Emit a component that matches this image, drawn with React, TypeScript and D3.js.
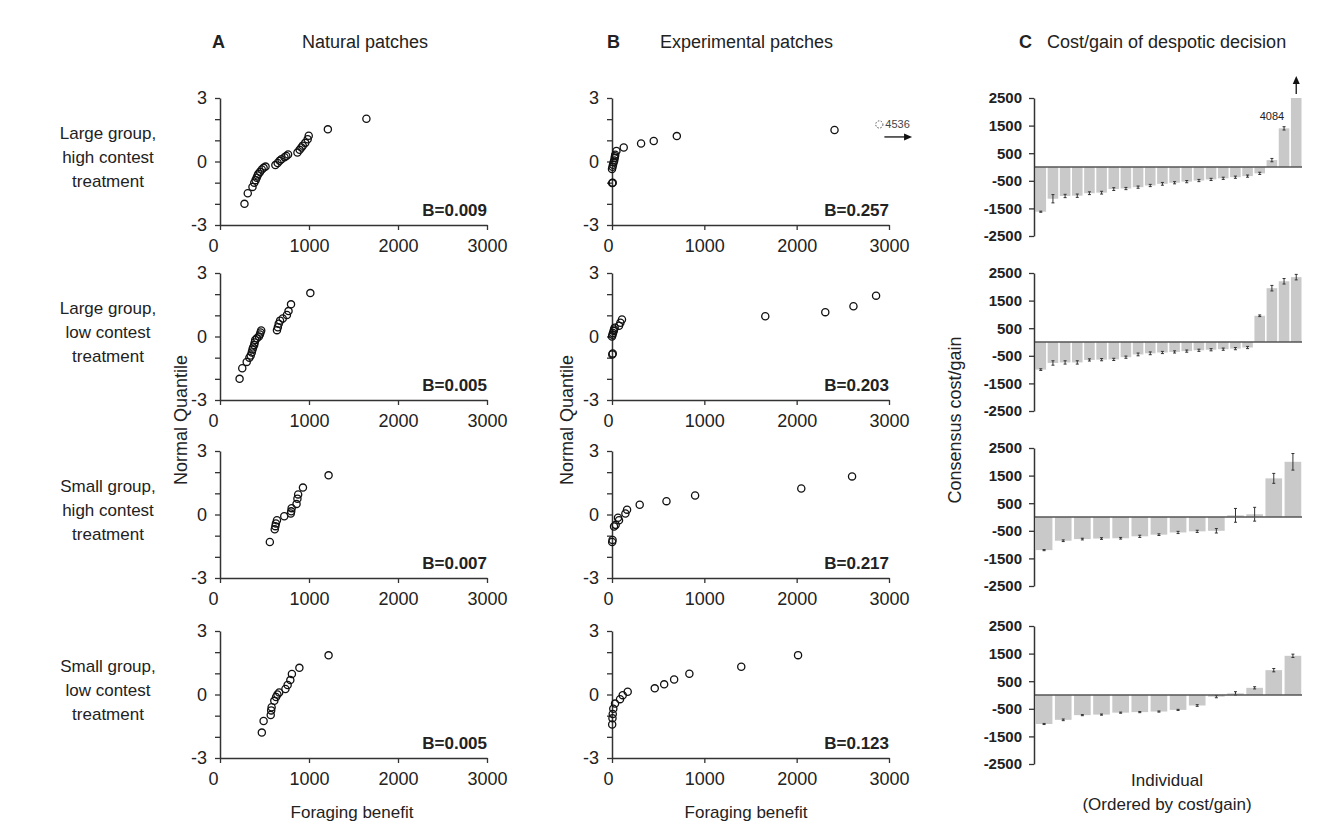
import React, { useRef, useEffect } from "react"
import * as d3 from "d3"

// row labels (left side)
const rowLabels = [
  ["Large group,", "high contest", "treatment"],
  ["Large group,", "low contest", "treatment"],
  ["Small group,", "high contest", "treatment"],
  ["Small group,", "low contest", "treatment"],
]

// A: natural patches  [foraging benefit, normal quantile]
const naturalLargeHigh = [
  [275, -2.0], [312, -1.5], [365, -1.2], [385, -1.0], [400, -0.88], [412, -0.77], [422, -0.66],
  [432, -0.58], [450, -0.49], [470, -0.38], [490, -0.3], [512, -0.24], [622, -0.17], [648, -0.07],
  [670, 0.03], [690, 0.11], [725, 0.2], [745, 0.26], [765, 0.33], [870, 0.42], [895, 0.55],
  [915, 0.66], [930, 0.75], [958, 0.88], [985, 1.05], [997, 1.22], [1212, 1.52], [1645, 2.02],
]
const naturalLargeLow = [
  [220, -2.0], [250, -1.5], [300, -1.2], [330, -1.0], [345, -0.9], [357, -0.75], [365, -0.62],
  [372, -0.52], [384, -0.4], [390, -0.28], [396, -0.16], [414, -0.08], [437, 0.0], [448, 0.1],
  [455, 0.19], [463, 0.28], [640, 0.3], [650, 0.44], [660, 0.6], [675, 0.75], [705, 0.85],
  [752, 1.02], [770, 1.2], [798, 1.52], [1015, 2.05],
]
const naturalSmallHigh = [
  [560, -1.3], [615, -0.7], [622, -0.55], [628, -0.42], [640, -0.27], [722, -0.08], [795, 0.05],
  [800, 0.15], [805, 0.3], [860, 0.5], [870, 0.75], [878, 0.95], [932, 1.27], [1220, 1.85],
]
const naturalSmallLow = [
  [470, -1.8], [490, -1.25], [570, -0.97], [575, -0.75], [580, -0.6], [610, -0.3], [630, -0.12],
  [645, 0.0], [665, 0.1], [735, 0.26], [760, 0.45], [790, 0.68], [808, 0.97], [892, 1.26], [1220, 1.85],
]

// B: experimental patches
const expLargeHigh = [
  [2, -1.02], [8, -1.0], [0, -0.35], [6, -0.25], [11, -0.15], [18, -0.04], [24, 0.05], [29, 0.16],
  [32, 0.25], [35, 0.32], [48, 0.5], [127, 0.66], [315, 0.85], [452, 0.97], [702, 1.2], [2410, 1.49],
]
const expLargeLow = [
  [3, -0.85], [8, -0.8], [0, 0.0], [5, 0.08], [11, 0.17], [18, 0.26], [22, 0.33], [29, 0.41],
  [76, 0.51], [91, 0.65], [108, 0.8], [1660, 0.96], [2310, 1.15], [2615, 1.43], [2860, 1.93],
]
const expSmallHigh = [
  [2, -1.3], [6, -1.2], [22, -0.57], [40, -0.49], [76, -0.27], [65, -0.15], [145, 0.05],
  [163, 0.23], [300, 0.46], [590, 0.63], [900, 0.9], [2050, 1.23], [2600, 1.8],
]
const expSmallLow = [
  [2, -1.42], [5, -1.12], [8, -0.92], [14, -0.67], [33, -0.43], [87, -0.22], [116, -0.03],
  [170, 0.13], [463, 0.29], [565, 0.48], [673, 0.71], [838, 0.98], [1400, 1.31], [2015, 1.86],
]

const naturalB = ["B=0.009", "B=0.005", "B=0.007", "B=0.005"]
const experimentalB = ["B=0.257", "B=0.203", "B=0.217", "B=0.123"]

// C: consensus cost/gain per individual (ordered), with error
const costLargeHigh = [-1620, -1150, -1050, -1040, -950, -930, -800, -780, -730, -670, -610, -570, -530, -490, -450, -410, -370, -330, -230, 250, 1400, 4084]
const errLargeHigh = [20, 150, 60, 60, 50, 50, 50, 40, 40, 40, 50, 40, 40, 40, 40, 40, 40, 40, 40, 60, 60, 0]
const costLargeLow = [-1000, -760, -740, -740, -650, -640, -630, -550, -450, -410, -380, -360, -330, -300, -280, -260, -240, -200, 950, 1950, 2200, 2350]
const errLargeLow = [30, 80, 60, 60, 40, 40, 40, 40, 50, 50, 40, 40, 40, 40, 40, 40, 40, 40, 30, 100, 100, 100]
const costSmallHigh = [-1200, -860, -800, -780, -770, -700, -640, -560, -520, -500, 60, 100, 1400, 2000]
const errSmallHigh = [20, 30, 30, 30, 30, 40, 30, 40, 40, 80, 250, 250, 180, 300]
const costSmallLow = [-1050, -900, -730, -710, -640, -620, -600, -540, -380, -60, 60, 260, 900, 1420]
const errSmallLow = [20, 30, 20, 20, 20, 20, 20, 20, 30, 40, 60, 40, 60, 60]

const naturalRows = [naturalLargeHigh, naturalLargeLow, naturalSmallHigh, naturalSmallLow]
const experimentalRows = [expLargeHigh, expLargeLow, expSmallHigh, expSmallLow]
const costRows = [costLargeHigh, costLargeLow, costSmallHigh, costSmallLow]
const errRows = [errLargeHigh, errLargeLow, errSmallHigh, errSmallLow]

const xTicks = [0, 1000, 2000, 3000]
const qTicks = [-3, -2, -1, 0, 1, 2, 3]
const qLabels = [-3, 0, 3]
const cTicks = [2500, 1500, 500, -500, -1500, -2500]

const FONT = "'Liberation Sans', Arial, Helvetica, sans-serif"
const INK = "#222"
const AXIS = "#333"

const App = () => {
  const svgRef = useRef(null)

  useEffect(() => {
    const svg = d3.select(svgRef.current)
    svg.selectAll("*").remove()
    svg.attr("font-family", FONT)

    const rowTops = [98, 273, 451, 631]
    const rowH = 127
    const cTops = [98, 273, 448, 626]
    const cH = 138

    const styleAxis = (g, size) => {
      g.attr("font-family", FONT).attr("font-size", size)
      g.select(".domain").attr("stroke", AXIS).attr("stroke-width", 1.5)
      g.selectAll(".tick line").attr("stroke", AXIS).attr("stroke-width", 1.3)
      g.selectAll(".tick text").attr("fill", INK)
    }

    const scatter = (data, x0, x1, top, label, zeroShift) => {
      const x = d3.scaleLinear().domain([0, 3000]).range([x0, x1])
      const y = d3.scaleLinear().domain([-3, 3]).range([top + rowH, top])
      const g = svg.append("g")

      g.append("g")
        .attr("transform", `translate(${x0},0)`)
        .call(d3.axisLeft(y).tickValues(qTicks).tickSize(5).tickSizeOuter(0).tickPadding(8)
          .tickFormat((d) => (qLabels.includes(d) ? String(d) : "")))
        .call((a) => styleAxis(a, 18))

      g.append("g")
        .attr("transform", `translate(0,${top + rowH})`)
        .call(d3.axisBottom(x).tickValues(xTicks).tickSize(5).tickSizeOuter(0).tickPadding(9)
          .tickFormat((d) => String(d)))
        .call((a) => styleAxis(a, 18))
        .call((a) => a.selectAll(".tick text").filter((d) => d === 0).attr("dx", zeroShift))

      g.selectAll("circle.pt")
        .data(data)
        .enter()
        .append("circle")
        .attr("class", "pt")
        .attr("cx", (d) => x(d[0]))
        .attr("cy", (d) => y(d[1]))
        .attr("r", 3.6)
        .attr("fill", "none")
        .attr("stroke", "#111")
        .attr("stroke-width", 1.3)

      g.append("text")
        .attr("x", x(3000))
        .attr("y", y(-3) - 9)
        .attr("text-anchor", "end")
        .attr("font-size", 17)
        .attr("font-weight", "bold")
        .attr("fill", INK)
        .text(label)

      return { x, y, g }
    }

    // row labels
    rowLabels.forEach((lines, i) => {
      const cy = rowTops[i] + rowH / 2 - 5
      const t = svg.append("text").attr("text-anchor", "middle").attr("font-size", 17).attr("fill", INK)
      lines.forEach((line, j) => {
        t.append("tspan").attr("x", 108).attr("y", cy + (j - 1) * 24 + 6).text(line)
      })
    })

    // panel A and B
    naturalRows.forEach((data, i) => scatter(data, 220, 487, rowTops[i], naturalB[i], -7))
    experimentalRows.forEach((data, i) => {
      const { x, y, g } = scatter(data, 612, 889, rowTops[i], experimentalB[i], -4)
      if (i === 0) {
        // off-scale point 4536
        g.append("circle")
          .attr("cx", x(2895)).attr("cy", y(1.75)).attr("r", 3.6)
          .attr("fill", "none").attr("stroke", "#555").attr("stroke-width", 1)
          .attr("stroke-dasharray", "1.5,1.5")
        g.append("text")
          .attr("x", x(2895) + 6).attr("y", y(1.75) + 4)
          .attr("font-size", 11).attr("fill", "#444").text("4536")
        g.append("line")
          .attr("x1", x(2950)).attr("x2", x(3190)).attr("y1", y(1.16)).attr("y2", y(1.16))
          .attr("stroke", "#111").attr("stroke-width", 1.3)
        g.append("path")
          .attr("d", `M${x(3250)},${y(1.16)} l-8,-3.5 l0,7 z`)
          .attr("fill", "#111")
      }
    })

    // panel C
    costRows.forEach((vals, i) => {
      const top = cTops[i]
      const x = d3.scaleBand().domain(d3.range(vals.length)).range([1035, 1302]).paddingInner(0.13).paddingOuter(0.04)
      const y = d3.scaleLinear().domain([-2500, 2500]).range([top + cH, top])
      const g = svg.append("g")

      g.selectAll("rect")
        .data(vals)
        .enter()
        .append("rect")
        .attr("x", (d, k) => x(k))
        .attr("width", x.bandwidth())
        .attr("y", (d) => y(Math.max(0, Math.min(d, 2500))))
        .attr("height", (d) => Math.abs(y(Math.min(d, 2500)) - y(0)))
        .attr("fill", "#c9c9c9")

      const errs = errRows[i]
      vals.forEach((v, k) => {
        if (!errs[k]) return
        const cx = x(k) + x.bandwidth() / 2
        const e = g.append("g").attr("stroke", "#333").attr("stroke-width", 1)
        e.append("line").attr("x1", cx).attr("x2", cx).attr("y1", y(v - errs[k])).attr("y2", y(v + errs[k]))
        e.append("line").attr("x1", cx - 1.5).attr("x2", cx + 1.5).attr("y1", y(v - errs[k])).attr("y2", y(v - errs[k]))
        e.append("line").attr("x1", cx - 1.5).attr("x2", cx + 1.5).attr("y1", y(v + errs[k])).attr("y2", y(v + errs[k]))
      })

      g.append("line")
        .attr("x1", 1034).attr("x2", 1302).attr("y1", y(0)).attr("y2", y(0))
        .attr("stroke", "#555").attr("stroke-width", 1.5)

      g.append("g")
        .attr("transform", "translate(1034,0)")
        .call(d3.axisLeft(y).tickValues(cTicks).tickSize(5).tickSizeOuter(0).tickPadding(7)
          .tickFormat((d) => String(d)))
        .call((a) => styleAxis(a, 15))
        .call((a) => a.selectAll(".tick text").attr("font-weight", "bold"))

      if (i === 0) {
        const last = vals.length - 1
        const cx = x(last) + x.bandwidth() / 2
        g.append("text")
          .attr("x", cx - 12).attr("y", y(2500) + 22)
          .attr("text-anchor", "end").attr("font-size", 11).attr("fill", INK)
          .text(String(vals[last]))
        g.append("line")
          .attr("x1", cx).attr("x2", cx).attr("y1", y(2500) - 4).attr("y2", y(2500) - 16)
          .attr("stroke", "#111").attr("stroke-width", 1.3)
        g.append("path")
          .attr("d", `M${cx},${y(2500) - 22} l-3.5,8 l7,0 z`)
          .attr("fill", "#111")
      }
    })

    // titles
    const title = (letter, lx, text, tx) => {
      svg.append("text").attr("x", lx).attr("y", 48).attr("font-size", 18).attr("font-weight", "bold").attr("fill", INK).text(letter)
      svg.append("text").attr("x", tx).attr("y", 48).attr("font-size", 18).attr("fill", INK).text(text)
    }
    title("A", 212, "Natural patches", 302)
    title("B", 607, "Experimental patches", 660)
    title("C", 1019, "Cost/gain of despotic decision", 1047)

    // axis titles
    const vTitle = (x, yc, text) => {
      svg.append("text")
        .attr("transform", `translate(${x},${yc}) rotate(-90)`)
        .attr("text-anchor", "middle").attr("font-size", 18).attr("fill", INK)
        .text(text)
    }
    vTitle(187, 420, "Normal Quantile")
    vTitle(573, 420, "Normal Quantile")
    vTitle(961, 420, "Consensus cost/gain")

    const hTitle = (x, y, text) => {
      svg.append("text").attr("x", x).attr("y", y).attr("text-anchor", "middle")
        .attr("font-size", 17).attr("fill", INK).text(text)
    }
    hTitle(352, 818, "Foraging benefit")
    hTitle(746, 818, "Foraging benefit")
    hTitle(1167, 786, "Individual")
    hTitle(1167, 810, "(Ordered by cost/gain)")
  }, [])

  return (
    <svg
      ref={svgRef}
      width={1325}
      height={832}
      style={{ position: "absolute", left: 0, top: 0, background: "#fff" }}
    ></svg>
  )
}

export default App
